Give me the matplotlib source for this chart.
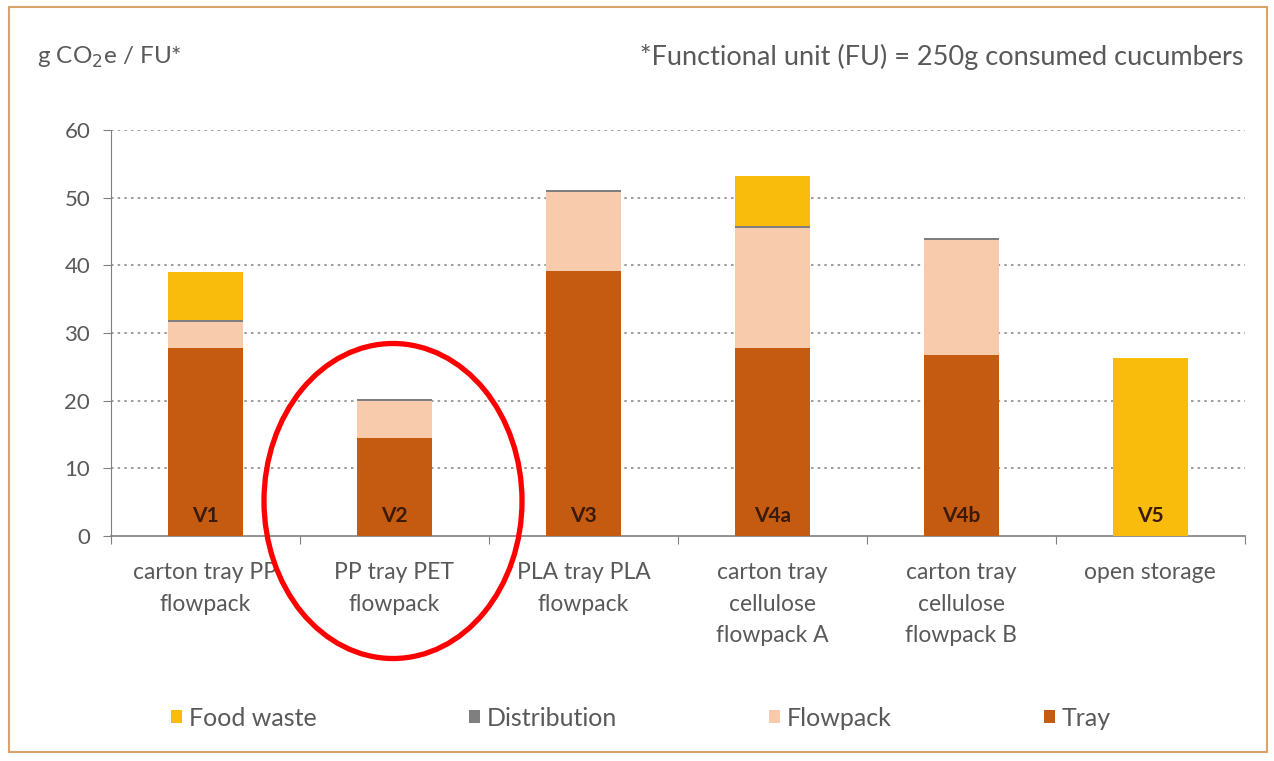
import matplotlib
matplotlib.use("Agg")
import matplotlib.pyplot as plt
from matplotlib.patches import Ellipse, Rectangle
import numpy as np

categories = ["carton tray PP\nflowpack", "PP tray PET\nflowpack", "PLA tray PLA\nflowpack",
              "carton tray\ncellulose\nflowpack A", "carton tray\ncellulose\nflowpack B", "open storage"]
bar_ids = ["V1", "V2", "V3", "V4a", "V4b", "V5"]
tray = [27.8, 14.5, 39.1, 27.8, 26.7, 0.0]
flowpack = [3.8, 5.5, 11.7, 17.7, 17.1, 0.0]
distribution = [0.3, 0.3, 0.3, 0.3, 0.3, 0.0]
food_waste = [7.1, 0.0, 0.0, 7.4, 0.0, 26.3]
yticks = [0, 10, 20, 30, 40, 50, 60]

c_tray = "#C55A11"
c_flow = "#F8CBAD"
c_dist = "#7F7F7F"
c_food = "#F9BC0C"
txt = "#595959"

plt.rcParams['font.family'] = ['Lato', 'DejaVu Sans']

fig = plt.figure(figsize=(12.74, 7.61), dpi=100)
fig.patch.set_facecolor("white")
ax = fig.add_axes([0.0871, 0.2957, 0.8900, 0.5335])

x = np.arange(len(categories))
w = 0.4
b1 = ax.bar(x, tray, w, color=c_tray, label="Tray", zorder=3)
bot = np.array(tray)
b2 = ax.bar(x, flowpack, w, bottom=bot, color=c_flow, label="Flowpack", zorder=3)
bot = bot + np.array(flowpack)
b3 = ax.bar(x, distribution, w, bottom=bot, color=c_dist, label="Distribution", zorder=3)
bot = bot + np.array(distribution)
b4 = ax.bar(x, food_waste, w, bottom=bot, color=c_food, label="Food waste", zorder=3)

for xi, lab in zip(x, bar_ids):
    ax.text(xi, 3.0, lab, ha="center", va="center", fontsize=15, fontweight="bold",
            color="#3a1a08", zorder=4)

ax.set_xlim(-0.5, len(categories) - 0.5)
ax.set_ylim(0, 60)
ax.set_yticks(yticks)
ax.set_yticklabels([str(t) for t in yticks], fontsize=16, color=txt)
ax.set_xticks(np.arange(-0.5, len(categories), 1.0))
ax.set_xticklabels([])
ax.set_xticks(x, minor=True)
ax.set_xticklabels(categories, minor=True, fontsize=16.5, color=txt, linespacing=1.62, va="top")
ax.tick_params(axis="x", which="minor", length=0, pad=19)
ax.tick_params(axis="x", which="major", length=6, color="#808080", direction="out")
ax.tick_params(axis="y", length=6, color="#808080", pad=9)
for y in yticks[1:]:
    ax.axhline(y, color="#8c8c8c", linestyle=(0, (1.5, 2.5)), linewidth=1.2, zorder=1)
for s in ["top", "right"]:
    ax.spines[s].set_visible(False)
ax.spines["left"].set_color("#808080")
ax.spines["bottom"].set_color("#808080")
ax.spines["bottom"].set_linewidth(1.2)

fig.text(37 / 1274, 1 - 57 / 761, "g CO$_2$e / FU*", fontsize=17.5, color=txt, ha="left", va="center")
fig.text(1243 / 1274, 1 - 57 / 761, "*Functional unit (FU) = 250g consumed cucumbers",
         fontsize=19.5, color=txt, ha="right", va="center")

leg = fig.legend(handles=[b4, b3, b2, b1], labels=["Food waste", "Distribution", "Flowpack", "Tray"],
                 loc="center", bbox_to_anchor=(0.503, 1 - 718 / 761), ncol=4, frameon=False,
                 fontsize=18, handlelength=0.45, handleheight=0.45, handletextpad=0.25,
                 columnspacing=6.1, labelcolor=txt)

ell = Ellipse((393 / 1274, 1 - 501 / 761), 258 / 1274, 315 / 761, transform=fig.transFigure,
              fill=False, edgecolor="#FF0000", linewidth=3.8, zorder=10)
fig.patches.append(ell)

border = Rectangle((9 / 1274, 9 / 761), 1258 / 1274, 745 / 761, transform=fig.transFigure,
                   fill=False, edgecolor="#D9A36A", linewidth=1.5)
fig.patches.append(border)

fig.savefig("out.png", dpi=100)
